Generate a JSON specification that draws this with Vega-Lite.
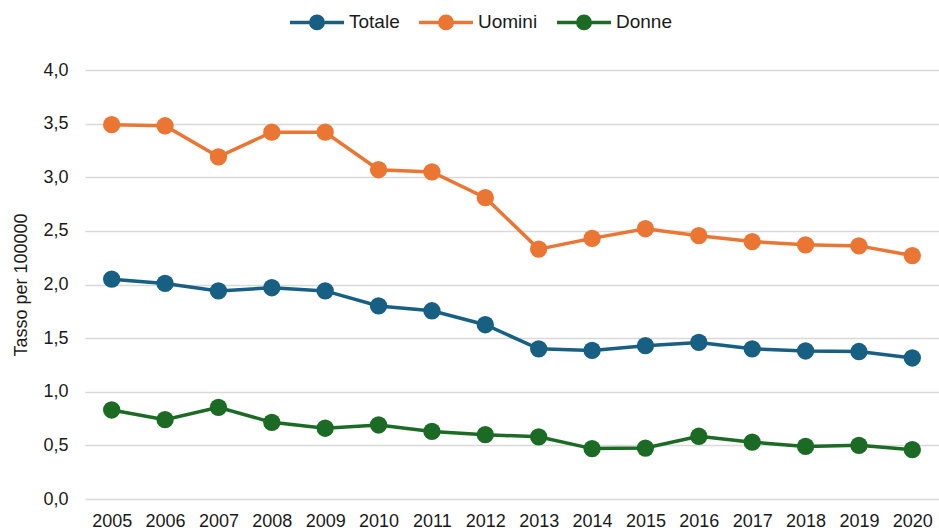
{
  "$schema": "https://vega.github.io/schema/vega-lite/v6.json",
  "width": 854,
  "height": 429,
  "autosize": {"type": "none"},
  "padding": {"left": 85, "top": 70, "right": 0, "bottom": 32},
  "background": "white",
  "config": {
    "font": "Liberation Sans",
    "view": {"stroke": null},
    "axis": {"labelFont": "Liberation Sans", "titleFont": "Liberation Sans", "labelColor": "#1a1a1a", "titleColor": "#1a1a1a"}
  },
  "data": {
    "values": [
      {"anno": "2005", "serie": "Totale", "valore": 2.05},
      {"anno": "2006", "serie": "Totale", "valore": 2.01},
      {"anno": "2007", "serie": "Totale", "valore": 1.94},
      {"anno": "2008", "serie": "Totale", "valore": 1.97},
      {"anno": "2009", "serie": "Totale", "valore": 1.94},
      {"anno": "2010", "serie": "Totale", "valore": 1.80},
      {"anno": "2011", "serie": "Totale", "valore": 1.755},
      {"anno": "2012", "serie": "Totale", "valore": 1.625},
      {"anno": "2013", "serie": "Totale", "valore": 1.40},
      {"anno": "2014", "serie": "Totale", "valore": 1.385},
      {"anno": "2015", "serie": "Totale", "valore": 1.43},
      {"anno": "2016", "serie": "Totale", "valore": 1.46},
      {"anno": "2017", "serie": "Totale", "valore": 1.40},
      {"anno": "2018", "serie": "Totale", "valore": 1.38},
      {"anno": "2019", "serie": "Totale", "valore": 1.375},
      {"anno": "2020", "serie": "Totale", "valore": 1.315},
      {"anno": "2005", "serie": "Uomini", "valore": 3.49},
      {"anno": "2006", "serie": "Uomini", "valore": 3.48},
      {"anno": "2007", "serie": "Uomini", "valore": 3.19},
      {"anno": "2008", "serie": "Uomini", "valore": 3.42},
      {"anno": "2009", "serie": "Uomini", "valore": 3.42},
      {"anno": "2010", "serie": "Uomini", "valore": 3.07},
      {"anno": "2011", "serie": "Uomini", "valore": 3.05},
      {"anno": "2012", "serie": "Uomini", "valore": 2.81},
      {"anno": "2013", "serie": "Uomini", "valore": 2.33},
      {"anno": "2014", "serie": "Uomini", "valore": 2.43},
      {"anno": "2015", "serie": "Uomini", "valore": 2.52},
      {"anno": "2016", "serie": "Uomini", "valore": 2.455},
      {"anno": "2017", "serie": "Uomini", "valore": 2.40},
      {"anno": "2018", "serie": "Uomini", "valore": 2.37},
      {"anno": "2019", "serie": "Uomini", "valore": 2.36},
      {"anno": "2020", "serie": "Uomini", "valore": 2.27},
      {"anno": "2005", "serie": "Donne", "valore": 0.83},
      {"anno": "2006", "serie": "Donne", "valore": 0.74},
      {"anno": "2007", "serie": "Donne", "valore": 0.855},
      {"anno": "2008", "serie": "Donne", "valore": 0.715},
      {"anno": "2009", "serie": "Donne", "valore": 0.66},
      {"anno": "2010", "serie": "Donne", "valore": 0.69},
      {"anno": "2011", "serie": "Donne", "valore": 0.63},
      {"anno": "2012", "serie": "Donne", "valore": 0.60},
      {"anno": "2013", "serie": "Donne", "valore": 0.58},
      {"anno": "2014", "serie": "Donne", "valore": 0.47},
      {"anno": "2015", "serie": "Donne", "valore": 0.475},
      {"anno": "2016", "serie": "Donne", "valore": 0.585},
      {"anno": "2017", "serie": "Donne", "valore": 0.53},
      {"anno": "2018", "serie": "Donne", "valore": 0.49},
      {"anno": "2019", "serie": "Donne", "valore": 0.50},
      {"anno": "2020", "serie": "Donne", "valore": 0.46}
    ]
  },
  "encoding": {
    "x": {
      "field": "anno", "type": "ordinal",
      "scale": {"type": "point", "padding": 0.5},
      "axis": {"title": null, "labelAngle": 0, "labelFontSize": 18, "labelPadding": 13, "ticks": false, "domain": false, "grid": false}
    },
    "y": {
      "field": "valore", "type": "quantitative",
      "scale": {"domain": [0, 4], "nice": false, "zero": true},
      "axis": {
        "title": "Tasso per 100000", "titleFontSize": 18, "titleFontWeight": "normal", "titlePadding": 12,
        "values": [0, 0.5, 1, 1.5, 2, 2.5, 3, 3.5, 4],
        "labelExpr": "replace(format(datum.value, '.1f'), '.', ',')",
        "labelFontSize": 18, "labelPadding": 17, "ticks": false, "domain": false,
        "grid": true, "gridColor": "#d9d9d9", "gridWidth": 1.5
      }
    },
    "color": {
      "field": "serie", "type": "nominal",
      "scale": {"domain": ["Totale", "Uomini", "Donne"], "range": ["#175f83", "#eb7533", "#1b6b25"]},
      "sort": ["Totale", "Uomini", "Donne"],
      "legend": {
        "title": null, "orient": "none", "direction": "horizontal",
        "legendX": 203, "legendY": -77,
        "symbolType": "M-1,0H1M-0.23,0A0.23,0.23,0,1,1,0.23,0A0.23,0.23,0,1,1,-0.23,0Z",
        "symbolSize": 2916, "symbolStrokeWidth": 3.5,
        "labelFontSize": 19, "labelFont": "Liberation Sans", "labelColor": "#1a1a1a",
        "labelOffset": 3, "columnPadding": 12,
        "encode": {"symbols": {"update": {"fill": {"scale": "color", "field": "value"}, "stroke": {"scale": "color", "field": "value"}, "opacity": {"value": 1}}}}
      }
    }
  },
  "layer": [
    {
      "mark": {"type": "line", "strokeWidth": 3.5}
    },
    {
      "mark": {"type": "point", "filled": true, "opacity": 1, "size": 300}
    }
  ]
}
